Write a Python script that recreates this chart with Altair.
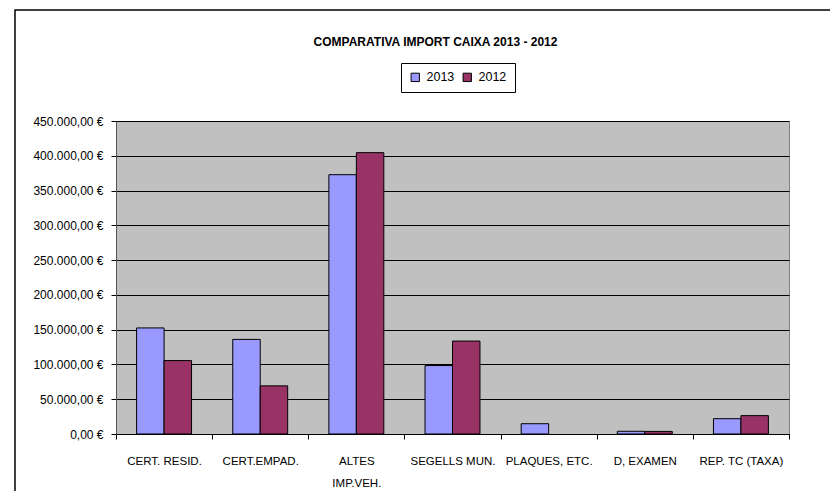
import altair as alt
import pandas as pd

categories = ["CERT. RESID.", "CERT.EMPAD.", "ALTES IMP.VEH.", "SEGELLS MUN.",
              "PLAQUES, ETC.", "D, EXAMEN", "REP. TC (TAXA)"]
v2013 = [152500, 136000, 372800, 98400, 14800, 3900, 22000]
v2012 = [105600, 69200, 404500, 133600, None, 3700, 26400]
years = ["2013", "2012"]
colors = ["#9999FF", "#993366"]
y_ticks = [0, 50000, 100000, 150000, 200000, 250000, 300000, 350000, 400000, 450000]

rows = []
for c, a, b in zip(categories, v2013, v2012):
    rows.append({"cat": c, "year": "2013", "value": a})
    if b is not None:
        rows.append({"cat": c, "year": "2012", "value": b})
df = pd.DataFrame(rows)

FONT = "Liberation Sans, Arial, sans-serif"

label_expr = ("replace(replace(replace(format(datum.value, ',.2f'), ',', '#'), '.', ','), '#', '.') + ' €'")

bars = alt.Chart(df).mark_bar(stroke="black", strokeWidth=1).encode(
    x=alt.X("cat:N", sort=categories, title=None,
            scale=alt.Scale(paddingInner=0, paddingOuter=0),
            axis=alt.Axis(labelAngle=0, tickBand="extent", tickSize=5, tickColor="black",
                          domainColor="black", labelFontSize=11.5, labelFont=FONT,
                          labelColor="black", labelPadding=16, labelLimit=200,
                          labelLineHeight=22, labelBaseline="top",
                          labelExpr="datum.label == 'ALTES IMP.VEH.' ? ['ALTES', 'IMP.VEH.'] : datum.label")),
    xOffset=alt.XOffset("year:N", sort=years, scale=alt.Scale(paddingOuter=0.75, paddingInner=0)),
    y=alt.Y("value:Q", title=None,
            scale=alt.Scale(domain=[0, 450000], nice=False),
            axis=alt.Axis(values=y_ticks, labelExpr=label_expr, tickSize=5, tickColor="black",
                          domainColor="#555555", gridColor="black", gridWidth=1,
                          labelFontSize=12, labelFont=FONT, labelColor="black",
                          labelPadding=8)),
    color=alt.Color("year:N", sort=years,
                    scale=alt.Scale(domain=years, range=colors),
                    legend=alt.Legend(title=None, orient="none", legendX=285, legendY=-58,
                                      direction="horizontal", strokeColor="black",
                                      padding=8, symbolType="square", symbolSize=70,
                                      symbolStrokeColor="black", symbolStrokeWidth=1,
                                      labelFontSize=12.5, labelFont=FONT, labelColor="black",
                                      columnPadding=6, labelOffset=5)),
)

frame = alt.Chart(pd.DataFrame({"k": [0]})).mark_rect(
    fill=None, stroke="black", strokeWidth=1.5
).encode(x=alt.value(-101), x2=alt.value(760), y=alt.value(-111), y2=alt.value(400))

chart = alt.layer(frame, bars).properties(
    width=673, height=313,
    title=alt.TitleParams("COMPARATIVA IMPORT CAIXA 2013 - 2012", fontSize=12, font=FONT,
                          fontWeight="bold", color="black", anchor="middle", offset=-40,
                          frame="group", dx=-17),
    padding={"left": 108, "top": 113, "right": 41, "bottom": 57},
    autosize=alt.AutoSizeParams(type="none"),
    background="white",
).configure_view(fill="#C0C0C0", stroke="#808080", strokeWidth=1)

chart.save("out.html", embed_options={"renderer": "svg", "actions": False})
